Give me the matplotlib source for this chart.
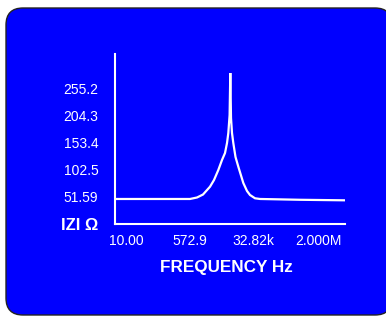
import matplotlib.pyplot as plt
from matplotlib.patches import FancyBboxPatch
from matplotlib.transforms import IdentityTransform

plt.rcParams['font.family'] = ['Liberation Sans', 'DejaVu Sans']

# impedance sweep (Hz, ohm)
freq_hz = [4.91, 571, 891, 1303, 2031, 2617, 3437, 4345, 5256, 5970, 6486, 7036,
           7356, 7690, 8190, 8896, 10230, 12220, 16780, 21220, 25650, 35240,
           48400, 611000, 9.95e6]
impedance_ohm = [47.1, 47.1, 49.9, 55.5, 70.2, 82.8, 101.6, 120.5, 133.6, 152.5, 171.3, 205.2,
                 284.2, 199.5, 171.3, 152.5, 126.1, 107.9, 77.2, 62.1, 54.6, 48.4,
                 47.1, 45.6, 44.6]

y_ticks = [0, 51.59, 102.5, 153.4, 204.3, 255.2]
y_labels = ['IZI \u03a9', '51.59', '102.5', '153.4', '204.3', '255.2']
x_ticks = [10, 572.9, 32820, 2.0e6]
x_labels = ['10.00', '572.9', '32.82k', '2.000M']

BLUE = '#0000ff'
W, H = 386, 316

fig = plt.figure(figsize=(W / 100, H / 100), dpi=100, facecolor='white')

# rounded blue panel (pixel coords, origin bottom-left)
panel = FancyBboxPatch((6, H - 315), 386, 307,
                       boxstyle='round,pad=0,rounding_size=17',
                       transform=IdentityTransform(),
                       facecolor=BLUE, edgecolor='#222222', linewidth=1.0,
                       zorder=-10)
fig.patches.append(panel)

ax = fig.add_axes([115 / W, (H - 224) / H, 230 / W, 170 / H])
ax.set_facecolor('none')

ax.plot(freq_hz, impedance_ohm, color='white', lw=1.6, solid_joinstyle='miter')

ax.set_xscale('log')
ax.set_xlim(4.91, 1.06e7)
ax.set_ylim(0, 320)

ax.set_xticks(x_ticks)
ax.set_xticklabels(x_labels)
ax.minorticks_off()
ax.set_yticks(y_ticks)
ax.set_yticklabels(y_labels)

ax.tick_params(axis='both', length=0, colors='white', labelsize=10)
ax.tick_params(axis='y', pad=12)
ax.tick_params(axis='x', pad=7)
lab = ax.get_yticklabels()[0]
lab.set_fontweight('bold')
lab.set_fontsize(12)

for s in ['top', 'right']:
    ax.spines[s].set_visible(False)
for s in ['left', 'bottom']:
    ax.spines[s].set_color('white')
    ax.spines[s].set_linewidth(1.5)

ax.set_xlabel('FREQUENCY Hz', color='white', fontsize=12.3, fontweight='bold', va='center')
ax.xaxis.set_label_coords((226 - 115) / 230, (224 - 267.5) / 170)

fig.savefig('out.png', dpi=100, facecolor='white')
